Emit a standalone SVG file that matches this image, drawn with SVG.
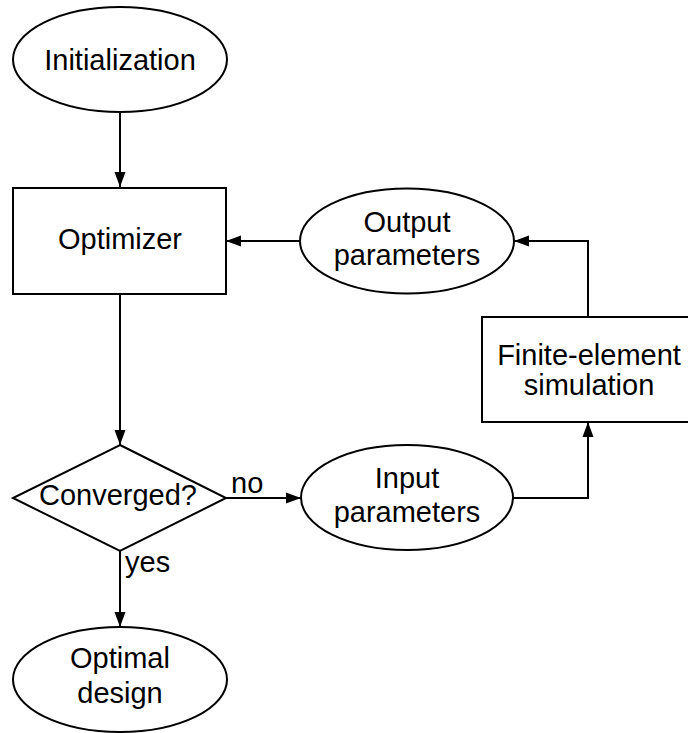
<svg xmlns="http://www.w3.org/2000/svg" width="688" height="733" viewBox="0 0 688 733">
<defs>
<marker id="arr" markerWidth="16" markerHeight="12" refX="15" refY="6" orient="auto" markerUnits="userSpaceOnUse">
<path d="M0,0.5 L15,6 L0,11.5 Z" fill="#000"/>
</marker>
</defs>
<style>
.shape{fill:#fff;stroke:#000;stroke-width:2}
.t{font-family:"Liberation Sans",Arial,sans-serif;font-size:29px;fill:#000;text-anchor:middle}
.l{font-family:"Liberation Sans",Arial,sans-serif;font-size:29px;fill:#000}
.c{fill:none;stroke:#000;stroke-width:2}
</style>
<rect width="688" height="733" fill="#fff"/>
<g id="connectors">
<path class="c" d="M120,112 L120,187" marker-end="url(#arr)"/>
<path class="c" d="M300,241 L226,241" marker-end="url(#arr)"/>
<path class="c" d="M120,294 L120,445" marker-end="url(#arr)"/>
<path class="c" d="M226,498 L301,498" marker-end="url(#arr)"/>
<path class="c" d="M120,551 L120,627" marker-end="url(#arr)"/>
<path class="c" d="M513,498 L588,498 L588,422" marker-end="url(#arr)"/>
<path class="c" d="M588,317 L588,241 L514,241" marker-end="url(#arr)"/>
<text class="l" x="231" y="493">no</text>
<text class="l" x="125" y="572">yes</text>
</g>
<g id="initialization">
<ellipse class="shape" cx="120" cy="59.5" rx="107" ry="52.5"/>
<text class="t" x="120" y="70">Initialization</text>
</g>
<g id="optimizer">
<rect class="shape" x="13" y="188" width="213" height="106"/>
<text class="t" x="120" y="249">Optimizer</text>
</g>
<g id="output-parameters">
<ellipse class="shape" cx="407" cy="241" rx="107" ry="52.5"/>
<text class="t" x="407" y="232">Output</text>
<text class="t" x="407" y="265">parameters</text>
</g>
<g id="fe-simulation">
<rect class="shape" x="482" y="317" width="212" height="105"/>
<text class="t" x="589" y="365">Finite-element</text>
<text class="t" x="589" y="395">simulation</text>
</g>
<g id="converged">
<polygon class="shape" points="120,445 226,498 120,551 13,498"/>
<text class="t" x="118" y="505">Converged?</text>
</g>
<g id="input-parameters">
<ellipse class="shape" cx="407" cy="497.5" rx="106" ry="52.5"/>
<text class="t" x="407" y="488">Input</text>
<text class="t" x="407" y="522">parameters</text>
</g>
<g id="optimal-design">
<ellipse class="shape" cx="120" cy="679.5" rx="107" ry="52.5"/>
<text class="t" x="120" y="668">Optimal</text>
<text class="t" x="120" y="703">design</text>
</g>
</svg>
